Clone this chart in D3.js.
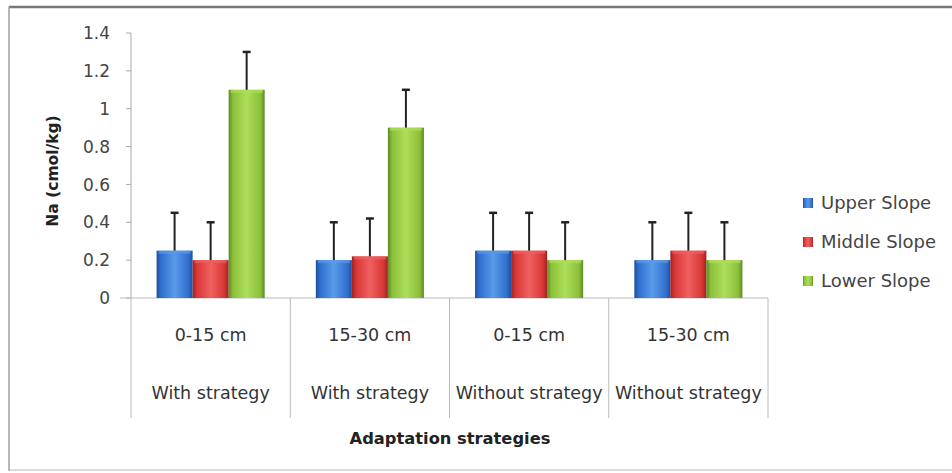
<!DOCTYPE html>
<html><head><meta charset="utf-8">
<script src="https://cdn.jsdelivr.net/npm/d3@7"></script>
<style>body{margin:0;background:#fff}svg{display:block;font-family:"DejaVu Sans",sans-serif}</style>
</head><body><svg id="c" width="952" height="473"></svg>
<script>
const depths = ["0-15 cm","15-30 cm","0-15 cm","15-30 cm"];
const strategies = ["With strategy","With strategy","Without strategy","Without strategy"];
const series = ["Upper Slope","Middle Slope","Lower Slope"];
const upper = [0.25,0.20,0.25,0.20];
const middle = [0.20,0.22,0.25,0.25];
const lower = [1.10,0.90,0.20,0.20];
const upperErr = [0.20,0.20,0.20,0.20];
const middleErr = [0.20,0.20,0.20,0.20];
const lowerErr = [0.20,0.20,0.20,0.20];
const yTicks = [0,0.2,0.4,0.6,0.8,1,1.2,1.4];
const colors = ["#2f6fcf","#d93636","#8cc03a"];
const darks = ["#1d4f9e","#9e2222","#5e8a22"];
const lights = ["#5a9ae8","#f06060","#aede5a"];

const vals = [upper,middle,lower], errs=[upperErr,middleErr,lowerErr];
const svg = d3.select("#c");
// frame
svg.append("rect").attr("x",9).attr("y",7).attr("width",950).attr("height",463)
  .attr("fill","#fff").attr("stroke","#d0d0d0").attr("stroke-width",1.5);
svg.append("line").attr("x1",9).attr("x2",952).attr("y1",7).attr("y2",7).attr("stroke","#777").attr("stroke-width",2.5);
svg.append("line").attr("x1",9).attr("x2",9).attr("y1",7).attr("y2",471).attr("stroke","#aaa").attr("stroke-width",1.5);

const defs = svg.append("defs");
series.forEach((s,i)=>{
  const g = defs.append("linearGradient").attr("id","g"+i).attr("x1","0").attr("x2","1").attr("y1","0").attr("y2","0");
  g.append("stop").attr("offset","0%").attr("stop-color",darks[i]);
  g.append("stop").attr("offset","12%").attr("stop-color",colors[i]);
  g.append("stop").attr("offset","50%").attr("stop-color",lights[i]);
  g.append("stop").attr("offset","88%").attr("stop-color",colors[i]);
  g.append("stop").attr("offset","100%").attr("stop-color",darks[i]);
});

const y = d3.scaleLinear().domain([0,1.4]).range([298,33]);
const x0 = d3.scaleBand().domain(d3.range(4)).range([131,768]);
const x1 = d3.scaleBand().domain(d3.range(3)).range([0,x0.bandwidth()]).paddingInner(0).paddingOuter(0.71);

// y axis
svg.append("line").attr("x1",131).attr("x2",131).attr("y1",y(1.4)).attr("y2",y(0)).attr("stroke","#aaa");
yTicks.forEach(t=>{
  svg.append("line").attr("x1",126).attr("x2",131).attr("y1",y(t)).attr("y2",y(t)).attr("stroke","#aaa");
  svg.append("text").attr("x",110).attr("y",y(t)).attr("dy","0.36em").attr("text-anchor","end")
    .attr("font-size",17).attr("fill","#444").text(d3.format("~g")(t));
});
svg.append("text").attr("transform","translate(53,171) rotate(-90)").attr("dy","0.35em").attr("text-anchor","middle")
  .attr("font-size",15.5).attr("font-weight","bold").attr("fill","#222").text("Na (cmol/kg)");

// x axis
svg.append("line").attr("x1",120).attr("x2",768).attr("y1",y(0)).attr("y2",y(0)).attr("stroke","#bbb");
[0,1,2,3,4].forEach(i=>{
  const xx = i<4 ? x0(i) : x0(3)+x0.bandwidth();
  svg.append("line").attr("x1",xx).attr("x2",xx).attr("y1",y(0)).attr("y2",418).attr("stroke","#bbb");
});
d3.range(4).forEach(i=>{
  const cx = x0(i)+x0.bandwidth()/2;
  svg.append("text").attr("x",cx).attr("y",335).attr("dy","0.36em").attr("text-anchor","middle")
    .attr("font-size",17.5).attr("fill","#333").text(depths[i]);
  svg.append("text").attr("x",cx).attr("y",393).attr("dy","0.36em").attr("text-anchor","middle")
    .attr("font-size",17.5).attr("fill","#333").text(strategies[i]);
});
svg.append("text").attr("x",450).attr("y",438).attr("dy","0.36em").attr("text-anchor","middle")
  .attr("font-size",16.3).attr("font-weight","bold").attr("fill","#222").text("Adaptation strategies");

// bars
vals.forEach((arr,s)=>{
  arr.forEach((v,i)=>{
    const bx = x0(i)+x1(s);
    svg.append("rect").attr("x",bx).attr("y",y(v)).attr("width",x1.bandwidth()).attr("height",y(0)-y(v))
      .attr("fill",`url(#g${s})`);
    svg.append("rect").attr("x",bx+2).attr("y",y(v)).attr("width",x1.bandwidth()-4).attr("height",3)
      .attr("fill",lights[s]).attr("opacity",0.7);
  });
});
// error bars
vals.forEach((arr,s)=>{
  arr.forEach((v,i)=>{
    const cx = x0(i)+x1(s)+x1.bandwidth()/2;
    const top = y(v+errs[s][i]);
    svg.append("line").attr("x1",cx).attr("x2",cx).attr("y1",y(v)).attr("y2",top).attr("stroke","#222").attr("stroke-width",2);
    svg.append("line").attr("x1",cx-4).attr("x2",cx+4).attr("y1",top).attr("y2",top).attr("stroke","#222").attr("stroke-width",2.5);
  });
});

// legend
series.forEach((s,i)=>{
  const ly = [203,242,281][i];
  svg.append("rect").attr("x",803).attr("y",ly-5).attr("width",10).attr("height",10).attr("fill",`url(#g${i})`);
  svg.append("text").attr("x",821).attr("y",ly).attr("dy","0.36em").attr("font-size",18).attr("fill","#444").text(s);
});
</script></body></html>
